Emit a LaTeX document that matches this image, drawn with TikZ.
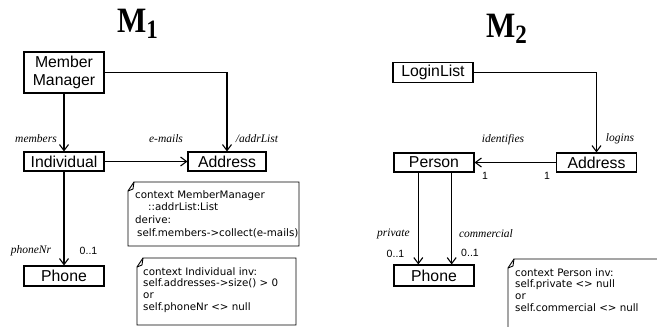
\documentclass[tikz,border=0pt]{standalone}
\usepackage{fontspec}
\setmainfont{Liberation Serif}
\newfontfamily\boxfont{Liberation Sans}
\newfontfamily\notefont{DejaVu Sans}
\usetikzlibrary{arrows.meta}

% closed comment card with a dog-eared top-left corner: {x0}{y0}{x1}{y1}
\newcommand{\dogearnote}[4]{%
  \draw[noteline] (#3,#2) -- ({#1+6},#2) -- (#1,{#2+9}) -- (#1,#4) -- (#3,#4) -- cycle;
  \draw[noteline] ({#1+6},#2) -- ({#1+5},{#2+7}) -- (#1,{#2+9});
}

\begin{document}
\begin{tikzpicture}[x=1pt,y=-1pt,
  cls/.style={draw, line width=1.1pt, rectangle, inner sep=0pt,
    font=\boxfont\fontsize{15.8}{18.5}\selectfont, align=center},
  conn/.style={line width=1.1pt,
    -{Straight Barb[length=6pt,width=9pt,line width=1.1pt]}},
  role/.style={font=\itshape\fontsize{11.5}{12}\selectfont, inner sep=0pt},
  mult/.style={font=\boxfont\fontsize{10.5}{12}\selectfont, inner sep=0pt},
  noteline/.style={line width=0.9pt, line join=miter},
  notetext/.style={font=\notefont\fontsize{10.3}{12.8}\selectfont, align=left,
    inner sep=0pt, anchor=north west},
  title/.style={font=\bfseries\fontsize{31}{31}\selectfont, inner sep=0pt,
    anchor=base west}]

\useasboundingbox (0,0) rectangle (657,327);

% ---------- titles ----------
\node[title] (t1) at (117,32) {\scalebox{1}[1.15]{M}\raisebox{-6pt}{\scalebox{1}[1.15]{\fontsize{23}{23}\selectfont 1}}};
\node[title] (t2) at (486,37) {\scalebox{1}[1.15]{M}\raisebox{-6pt}{\scalebox{1}[1.15]{\fontsize{23}{23}\selectfont 2}}};

% ---------- model M1 ----------
\node[cls, minimum width=80pt, minimum height=41pt] (mm)   at (64,72.5)   {Member\\Manager};
\node[cls, minimum width=80pt, minimum height=19pt] (ind)  at (64,161.5)  {Individual};
\node[cls, minimum width=78pt, minimum height=19pt] (adr1) at (227,161.5) {Address};
\node[cls, minimum width=80pt, minimum height=20pt] (ph1)  at (64,276)    {Phone};

\draw[conn] (mm) -- (ind);
\draw[conn] (mm.east) -| (adr1.north);
\draw[conn] (ind) -- (adr1);
\draw[conn] (ind) -- (ph1);

\node[role] (l1) at (36,139)   {members};
\node[role] (l2) at (166,139)  {e-mails};
\node[role] (l3) at (257,139)  {/addrList};
\node[role] (l4) at (31,251)   {phoneNr};
\node[mult] (m1) at (88.5,251) {0..1};

\dogearnote{128}{182}{299}{246}
\node[notetext] (n1) at (135,190) {context MemberManager\\
\hspace*{13pt}::addrList:List\\
derive:\\
\hspace*{2pt}self.members->collect(e-mails)};

\dogearnote{137}{258}{296}{325}
\node[notetext, font=\notefont\fontsize{10.3}{11.7}\selectfont] (n2) at (143,267) {context Individual inv:\\
self.addresses->size() > 0\\
or\\
self.phoneNr <> null};

% ---------- model M2 ----------
\node[cls, minimum width=80pt, minimum height=20pt] (ll)   at (433,72.5)  {LoginList};
\node[cls, minimum width=80pt, minimum height=19pt] (per)  at (434,162.5) {Person};
\node[cls, minimum width=80pt, minimum height=19pt] (adr2) at (596.5,162.5) {Address};
\node[cls, minimum width=80pt, minimum height=21pt] (ph2)  at (434,275.5) {Phone};

\draw[conn] (ll.east) -| (adr2.north);
\draw[conn] (adr2) -- (per);
\draw[conn] ([xshift=-15.7pt]per.south) -- ([xshift=-15.7pt]per.south |- ph2.north);
\draw[conn] ([xshift=17.7pt]per.south) -- ([xshift=17.7pt]per.south |- ph2.north);

\node[role] (l5) at (503,139.5) {identifies};
\node[role] (l6) at (620,139)   {logins};
\node[mult] (m2) at (485,175.5) {1};
\node[mult] (m3) at (547,175.5) {1};
\node[role] (l7) at (393.5,234) {private};
\node[role] (l8) at (486,234)   {commercial};
\node[mult] (m4) at (395.5,254) {0..1};
\node[mult] (m5) at (470,253)   {0..1};

% comment card running off the right and bottom edges
\draw[noteline] (657,259) -- (514,259) -- (508,268) -- (508,327);
\draw[noteline] (514,259) -- (513,266) -- (508,268);
\node[notetext, font=\notefont\fontsize{10.3}{11.9}\selectfont] (n3) at (515,268) {context Person inv:\\
self.private <> null\\
or\\
self.commercial <> null};

\end{tikzpicture}
\end{document}
